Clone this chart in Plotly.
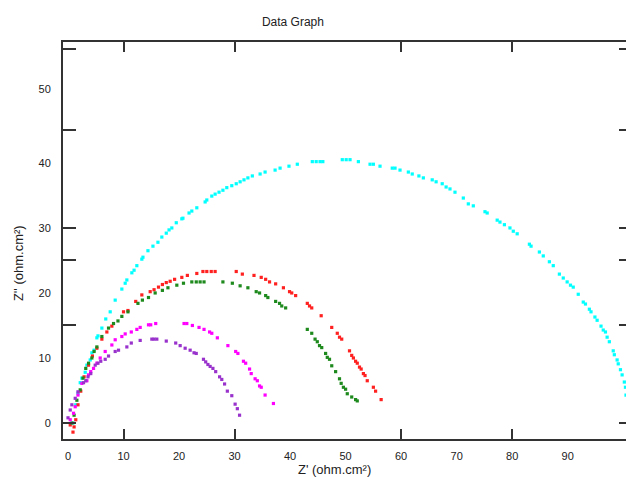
import plotly.graph_objects as go

# Nyquist-style arcs, values
cyan_x = [0.9, 1.4, 1.8, 2.2, 2.5, 3.1, 3.4, 4.0, 4.3, 4.7, 5.2, 5.4, 6.1, 6.8, 7.6, 8.5, 9.7, 10.3, 10.6,
          11.5, 11.9, 12.4, 13.3, 13.5, 14.4, 15.3, 16.2, 16.9, 17.7, 18.2, 18.7, 19.5, 20.5, 20.7, 21.8,
          22.3, 23.2, 24.7, 25.0, 25.9, 26.5, 27.2, 27.9, 28.6, 29.5, 30.3, 31.0, 31.7, 32.4, 33.2, 34.6,
          35.5, 37.3, 38.2, 39.8, 41.3, 44.0, 44.7, 45.4, 45.9, 49.4, 50.1, 50.8, 52.3, 54.4, 55.0, 56.2,
          58.4, 58.9, 59.8, 61.3, 62.0, 63.2, 64.0, 65.6, 66.3, 67.4, 68.1, 68.8, 69.7, 71.2, 72.1, 73.0,
          75.1, 75.5, 77.3, 77.8, 78.6, 79.6, 80.2, 80.9, 83.1, 83.4, 84.9, 85.6, 86.7, 87.4, 88.5, 89.2,
          89.9, 90.5, 91.0, 91.9, 92.8, 93.2, 93.9, 94.2, 94.9, 95.3, 96.0, 96.4, 96.8, 97.1, 97.5, 98.2,
          98.4, 98.9, 99.1, 99.5, 99.8, 100.2, 100.4, 100.5]
cyan_y = [0.0, 2.8, 4.6, 6.2, 6.9, 7.8, 8.9, 9.7, 10.8, 11.2, 13.1, 13.4, 14.6, 16.0, 17.1, 18.9, 20.6, 21.5,
          22.0, 23.1, 23.5, 24.2, 25.2, 25.5, 26.5, 27.2, 27.8, 28.6, 29.2, 29.7, 30.0, 30.8, 31.4, 31.5,
          32.3, 32.6, 33.1, 34.0, 34.3, 34.9, 35.2, 35.5, 35.8, 36.2, 36.5, 36.8, 37.1, 37.4, 37.7, 38.0,
          38.3, 38.6, 38.9, 39.2, 39.5, 39.8, 40.2, 40.2, 40.2, 40.2, 40.5, 40.5, 40.5, 40.2, 39.8, 39.8,
          39.5, 39.2, 39.2, 38.9, 38.6, 38.3, 38.0, 37.7, 37.4, 37.1, 36.8, 36.3, 36.0, 35.5, 34.6, 33.7,
          33.4, 32.5, 32.3, 31.2, 30.9, 30.5, 30.0, 29.5, 29.1, 27.5, 27.2, 26.3, 25.7, 24.8, 24.2, 22.9,
          22.3, 21.7, 21.2, 20.9, 19.8, 18.6, 18.3, 17.5, 17.1, 16.3, 15.8, 14.9, 14.3, 14.0, 13.2, 12.5,
          11.1, 10.5, 9.7, 9.1, 8.2, 7.4, 6.3, 5.5, 4.3]

red_x = [0.4, 0.9, 1.1, 1.4, 1.8, 2.3, 2.9, 3.7, 4.4, 5.2, 6.1, 7.0, 7.9, 10.0, 10.8, 12.2, 13.3, 14.8, 15.5,
         16.3, 17.0, 17.7, 18.4, 19.2, 20.5, 21.5, 23.2, 24.3, 25.0, 25.8, 26.5, 30.3, 31.4, 33.5, 34.8,
         35.6, 36.3, 37.4, 38.8, 39.9, 40.3, 41.0, 43.1, 43.5, 43.9, 45.6, 47.5, 48.5, 48.9, 49.3, 50.7,
         51.1, 51.4, 51.8, 52.1, 52.5, 52.8, 53.2, 53.5, 53.9, 55.0, 55.4, 56.4]
red_y = [-0.3, -1.4, -0.6, 0.5, 2.8, 4.9, 7.1, 8.9, 10.3, 11.5, 12.9, 14.0, 14.9, 17.1, 17.3, 18.7, 19.7,
         20.2, 20.5, 20.9, 21.3, 21.6, 21.8, 22.1, 22.4, 22.7, 23.0, 23.3, 23.3, 23.3, 23.3, 23.3, 22.9,
         22.7, 22.4, 22.1, 21.7, 21.4, 20.8, 20.2, 20.0, 19.6, 18.4, 18.0, 17.7, 16.5, 14.7, 13.8, 13.2,
         12.9, 11.1, 10.4, 10.0, 9.5, 9.2, 8.6, 8.3, 7.6, 7.3, 6.5, 5.5, 4.9, 3.6]

green_x = [0.7, 1.1, 1.6, 2.2, 2.7, 3.2, 3.7, 4.3, 4.7, 5.2, 6.1, 7.3, 8.2, 9.0, 9.7, 10.8, 12.6, 13.4, 14.5,
           15.7, 17.0, 18.0, 19.6, 20.8, 22.3, 23.1, 23.8, 24.5, 27.9, 29.6, 31.0, 32.4, 33.9, 34.5, 35.6,
           36.0, 37.4, 38.1, 38.5, 39.2, 43.1, 43.9, 44.5, 44.9, 45.3, 45.7, 46.4, 46.7, 47.1, 47.5, 48.2,
           48.9, 49.2, 49.6, 50.0, 50.3, 51.1, 51.8, 52.1]
green_y = [0.0, 1.2, 3.5, 5.1, 6.9, 8.4, 9.2, 10.0, 11.0, 11.7, 13.3, 14.6, 15.3, 15.7, 16.4, 17.1, 18.4, 18.9,
           19.3, 20.0, 20.4, 20.8, 21.2, 21.5, 21.7, 21.7, 21.7, 21.7, 21.7, 21.5, 21.1, 20.8, 20.2, 20.0,
           19.6, 19.3, 18.7, 18.4, 18.0, 17.7, 14.4, 13.8, 12.9, 12.5, 11.9, 11.6, 10.7, 10.1, 9.8, 8.8,
           7.9, 6.8, 6.1, 5.5, 5.2, 4.5, 4.0, 3.6, 3.4]

magenta_x = [0.4, 1.0, 1.3, 1.8, 2.5, 3.4, 3.7, 4.1, 4.6, 5.2, 5.8, 6.7, 7.9, 8.5, 9.7, 10.3, 11.4, 12.4, 13.0,
             14.5, 14.9, 15.8, 20.9, 21.4, 22.4, 23.6, 24.5, 25.5, 25.9, 26.9, 28.8, 30.2, 30.6, 31.6, 32.0,
             32.7, 33.0, 33.7, 34.1, 34.5, 34.8, 35.5, 37.0]
magenta_y = [0.5, 1.5, 2.5, 4.3, 6.1, 6.5, 7.4, 7.9, 8.4, 9.2, 10.0, 11.0, 12.0, 12.8, 13.3, 13.7, 14.0, 14.4,
             14.7, 15.1, 15.1, 15.3, 15.3, 15.3, 15.0, 14.7, 14.4, 14.0, 13.8, 13.1, 11.9, 11.0, 10.7, 9.5,
             9.2, 8.3, 7.6, 6.8, 6.5, 5.7, 5.5, 4.3, 3.0]

purple_x = [0.0, 0.4, 0.7, 1.3, 1.8, 2.8, 3.2, 3.6, 4.1, 4.9, 5.4, 5.9, 6.7, 7.3, 8.5, 9.1, 10.6, 11.4, 13.0,
            15.1, 15.5, 16.0, 17.7, 19.4, 20.2, 21.1, 22.0, 22.7, 23.1, 24.4, 24.8, 25.2, 25.6, 26.1, 26.6,
            27.3, 27.7, 28.2, 28.7, 29.5, 30.1, 30.5, 30.9]
purple_y = [0.8, 2.0, 2.8, 3.8, 4.8, 6.2, 6.5, 7.1, 7.6, 8.9, 9.2, 9.5, 9.8, 10.3, 11.0, 11.2, 11.7, 12.3, 12.7,
            12.9, 12.9, 12.9, 12.6, 12.3, 11.9, 11.5, 11.2, 10.8, 10.7, 9.8, 9.4, 9.0, 8.7, 8.4, 7.9,
            7.1, 6.7, 6.0, 4.9, 4.2, 2.9, 2.2, 1.2]

# tick labels and the (oddly placed) tick marks of the original
x_label_vals = [0, 10, 20, 30, 40, 50, 60, 70, 80, 90]
y_label_vals = [0, 10, 20, 30, 40, 51.4]
y_label_text = ["0", "10", "20", "30", "40", "50"]
x_mark_vals = [10, 30, 60, 80]
y_mark_vals = [0, 15, 25, 30, 45, 57.5]

X_RANGE = [-0.9, 100.5]
Y_RANGE = [-2.46, 58.6]
FONT = "Liberation Sans, Arial, sans-serif"
AXIS_COLOR = "#333333"

series = [
    (cyan_x, cyan_y, "#00FFFF"),
    (red_x, red_y, "#FF2020"),
    (green_x, green_y, "#1E8A1E"),
    (magenta_x, magenta_y, "#FF00FF"),
    (purple_x, purple_y, "#9932CC"),
]

fig = go.Figure()
for xs, ys, color in series:
    fig.add_trace(go.Scatter(x=xs, y=ys, mode="markers", showlegend=False, cliponaxis=True,
                             marker=dict(color=color, size=3.2, symbol="square", line=dict(width=0))))

# empty traces so the overlay axes (tick marks only) get drawn
fig.add_trace(go.Scatter(x=[], y=[], xaxis="x2", yaxis="y2", showlegend=False))
fig.add_trace(go.Scatter(x=[], y=[], xaxis="x2", yaxis="y3", showlegend=False))

fig.update_layout(
    width=626, height=477,
    margin=dict(l=63, r=0, t=42, b=38),
    paper_bgcolor="white", plot_bgcolor="white",
    font=dict(family=FONT, size=11, color="#222222"),
    title=dict(text="Data Graph", x=0.468, xref="container", xanchor="center",
               y=1 - 22 / 477, yanchor="middle", font=dict(size=12, color="#222222")),
    xaxis=dict(range=X_RANGE, tickvals=x_label_vals, ticks="", showgrid=False, zeroline=False,
               showline=True, linecolor=AXIS_COLOR, linewidth=2, mirror=True,
               ticklabelstandoff=6, tickfont=dict(size=11)),
    yaxis=dict(range=Y_RANGE, tickvals=y_label_vals, ticktext=y_label_text, ticks="",
               showgrid=False, zeroline=False, showline=True, linecolor=AXIS_COLOR, linewidth=2,
               mirror=False, ticklabelstandoff=8, tickfont=dict(size=11)),
    xaxis2=dict(range=X_RANGE, overlaying="x", anchor="y", side="bottom", tickvals=x_mark_vals,
                ticks="inside", ticklen=10, tickwidth=2, tickcolor=AXIS_COLOR, mirror="ticks",
                showticklabels=False, showgrid=False, zeroline=False, showline=False),
    yaxis2=dict(range=Y_RANGE, overlaying="y", anchor="x2", side="left", tickvals=y_mark_vals,
                ticks="inside", ticklen=13, tickwidth=2, tickcolor=AXIS_COLOR,
                showticklabels=False, showgrid=False, zeroline=False, showline=False),
    yaxis3=dict(range=Y_RANGE, overlaying="y", anchor="x2", side="right", tickvals=y_mark_vals,
                ticks="inside", ticklen=7, tickwidth=2, tickcolor=AXIS_COLOR,
                showticklabels=False, showgrid=False, zeroline=False, showline=False),
    annotations=[
        dict(text="Z' (ohm.cm²)", xref="paper", yref="paper", x=0.483, y=-0.078,
             xanchor="center", yanchor="middle", showarrow=False, font=dict(size=13)),
        dict(text="Z'' (ohm.cm²)", xref="paper", yref="paper", x=-0.080, y=0.443,
             xanchor="center", yanchor="middle", showarrow=False, textangle=-90,
             font=dict(size=13)),
    ],
)

# the page's default body margin would shift the 626x477 figure off the window
fig.write_html("out.html", config={"displayModeBar": False},
               post_script="document.body.style.margin='0';")
